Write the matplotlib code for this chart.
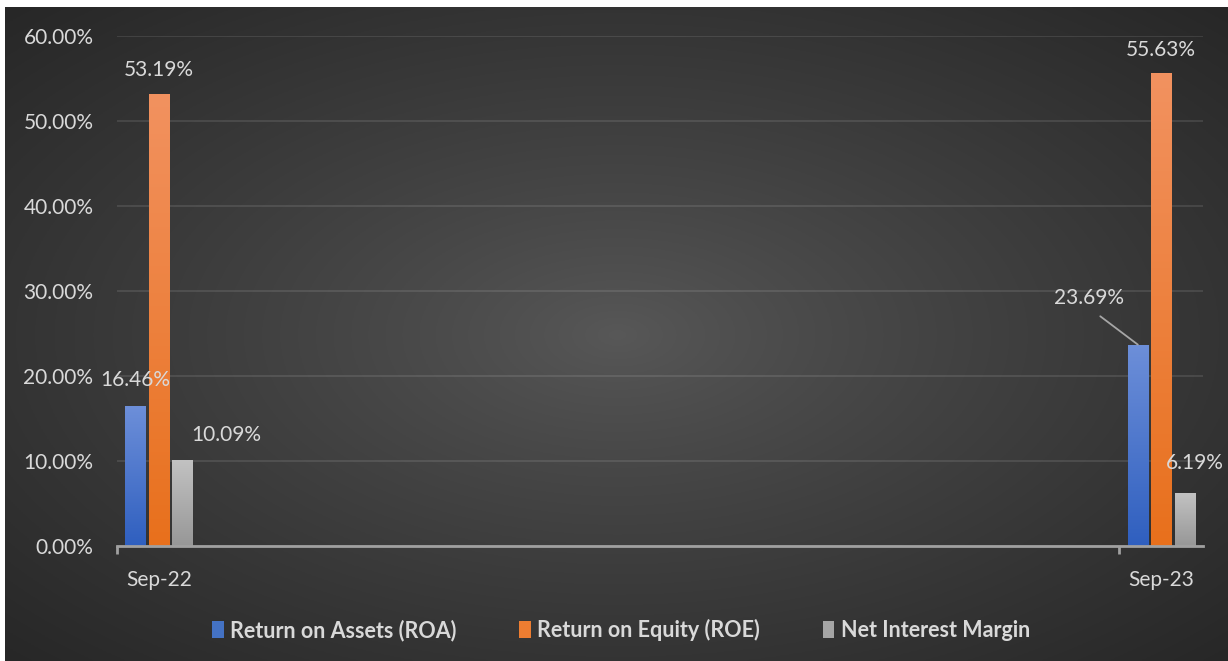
import numpy as np
import matplotlib
matplotlib.use('Agg')
import matplotlib.pyplot as plt
from matplotlib.patches import Patch
from matplotlib.colors import LinearSegmentedColormap

# data
periods = ['Sep-22', 'Sep-23']
month_pos = [0, 12]          # months since Sep-22 (date axis)
series = ['Return on Assets (ROA)', 'Return on Equity (ROE)', 'Net Interest Margin']
roa = [16.46, 23.69]
roe = [53.19, 55.63]
nim = [10.09, 6.19]
values = [roa, roe, nim]
y_ticks = [0, 10, 20, 30, 40, 50, 60]

# styles
grad_top = ['#6d8fd9', '#f29260', '#c2c2c2']
grad_bot = ['#2f5fbf', '#e8701c', '#979797']
legend_cols = ['#4472c4', '#ed7d31', '#a5a5a5']
txt_col = '#d9d9d9'
font = 'Lato'

plt.rcParams['font.family'] = [font, 'DejaVu Sans']

fig = plt.figure(figsize=(12.28, 6.61), dpi=100, facecolor='white')

# radial background
bg = fig.add_axes([5 / 1228, 0, 1 - 5 / 1228, 654 / 661])
bg.set_axis_off()
h, w = 330, 610
yy, xx = np.mgrid[0:h, 0:w]
r = np.sqrt(((xx - w / 2) / (w / 2)) ** 2 + ((yy - h / 2) / (h / 2)) ** 2) / np.sqrt(2)
r = np.clip(r, 0, 1) ** 0.85
c0, c1 = 0x58 / 255, 0x27 / 255
img = c0 + (c1 - c0) * r
bg.imshow(np.dstack([img, img, img]), aspect='auto', extent=(0, 1, 0, 1))
bg.set_xlim(0, 1)
bg.set_ylim(0, 1)

ax = fig.add_axes([117 / 1228, 115 / 661, (1203 - 117) / 1228, (546 - 36) / 661])
ax.patch.set_alpha(0)

bw = 0.24
offs = [-0.28, 0, 0.28]
grad = np.linspace(0, 1, 256).reshape(-1, 1)
for i, vals in enumerate(values):
    cmap = LinearSegmentedColormap.from_list('g%d' % i, [grad_bot[i], grad_top[i]])
    xs = [p + offs[i] for p in month_pos]
    bars = ax.bar(xs, vals, width=bw, color=grad_bot[i], zorder=3)
    for b in bars:
        x0 = b.get_x()
        im = ax.imshow(grad, cmap=cmap, aspect='auto', origin='lower',
                       extent=(x0, x0 + b.get_width(), 0, b.get_height()), zorder=3.5)
        im.set_clip_path(b)

ax.set_xlim(-0.5, 12.5)
ax.set_ylim(0, 60)

# grid and axes
ax.set_yticks(y_ticks)
ax.set_yticklabels(['%.2f%%' % t for t in y_ticks])
ax.grid(axis='y', color='white', alpha=0.1, lw=1.5, zorder=1)
for s in ['top', 'right', 'left']:
    ax.spines[s].set_visible(False)
ax.spines['bottom'].set_color('#a0a0a0')
ax.spines['bottom'].set_linewidth(2)
ax.spines['bottom'].set_zorder(4)
ax.tick_params(axis='y', length=0, pad=17, labelsize=15, labelcolor=txt_col)
ax.set_xticks(month_pos)
ax.set_xticklabels(periods)
ax.tick_params(axis='x', which='major', length=0, pad=17, labelsize=15, labelcolor=txt_col)
ax.set_xticks([-0.5, 11.5], minor=True)
ax.tick_params(axis='x', which='minor', length=6, width=2, color='#a0a0a0')

# data labels
lab_kw = dict(textcoords='offset pixels', ha='center', va='center',
              fontsize=15, color=txt_col, zorder=6)
label_off = [
    [(0, 26), (-49, 47)],
    [(0, 24), (0, 23)],
    [(44, 25), (10, 30)],
]
for i, vals in enumerate(values):
    for j, v in enumerate(vals):
        x = month_pos[j] + offs[i]
        dx, dy = label_off[i][j]
        if i == 0 and j == 1:
            ax.annotate('%.2f%%' % v, (x, v), xytext=(dx, dy),
                        arrowprops=dict(arrowstyle='-', color='#a6a6a6', lw=1.3,
                                        relpos=(0.5, 0), shrinkA=7, shrinkB=0), **lab_kw)
        else:
            ax.annotate('%.2f%%' % v, (x, v), xytext=(dx, dy), **lab_kw)

# legend
handles = [Patch(facecolor=c, edgecolor='none') for c in legend_cols]
leg = fig.legend(handles, series, loc='center', bbox_to_anchor=(621 / 1228, 1 - 630 / 661),
                 ncol=3, frameon=False, handlelength=0.55, handleheight=0.85,
                 handletextpad=0.3, columnspacing=2.9,
                 prop={'family': font, 'weight': 'bold', 'size': 15.5})
for t in leg.get_texts():
    t.set_color(txt_col)

fig.savefig('out.png', dpi=100, facecolor='white')
